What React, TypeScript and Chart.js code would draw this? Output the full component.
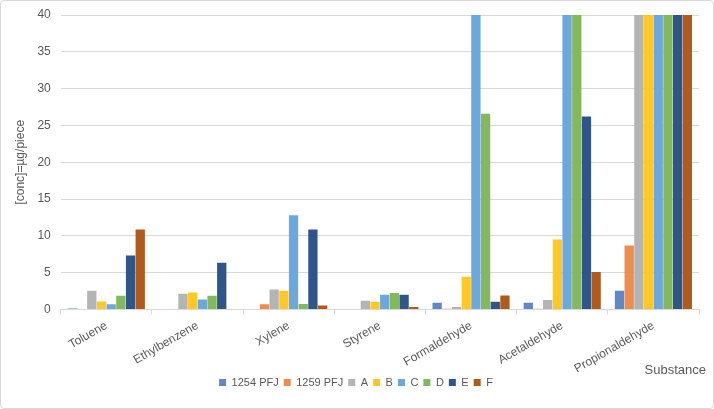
import { useEffect, useRef } from "react"
import Chart from "chart.js/auto"

const substances = [
  "Toluene",
  "Ethylbenzene",
  "Xylene",
  "Styrene",
  "Formaldehyde",
  "Acetaldehyde",
  "Propionaldehyde",
]

const seriesNames = ["1254 PFJ", "1259 PFJ", "A", "B", "C", "D", "E", "F"]

const seriesColors = [
  "#5E88C8",
  "#EE8D4E",
  "#B4B4B4",
  "#FFC825",
  "#6CA8DC",
  "#84B85C",
  "#2F568A",
  "#B05A1C",
]

// one array per series, values per substance (off-scale bars are > 40)
const pfj1254 = [0.15, 0, 0, 0, 0.9, 0.9, 2.55]
const pfj1259 = [0, 0, 0.7, 0, 0.1, 0.1, 8.7]
const seriesA = [2.55, 2.15, 2.7, 1.2, 0.35, 1.3, 60]
const seriesB = [1.1, 2.3, 2.55, 1.05, 4.45, 9.5, 60]
const seriesC = [0.7, 1.35, 12.8, 2.0, 60, 60, 60]
const seriesD = [1.85, 1.85, 0.75, 2.25, 26.6, 60, 60]
const seriesE = [7.35, 6.35, 10.85, 2.0, 1.05, 26.2, 60]
const seriesF = [10.85, 0, 0.55, 0.35, 1.9, 5.1, 60]

const seriesValues = [pfj1254, pfj1259, seriesA, seriesB, seriesC, seriesD, seriesE, seriesF]

const yTicks = [0, 5, 10, 15, 20, 25, 30, 35, 40]

const font = "'Liberation Sans', Arial, sans-serif"
const textColor = "#595959"
const lineColor = "#D9D9D9"

// x-axis title sits beside the rotated labels, at the right end
const substanceTitle = {
  id: "substanceTitle",
  afterDraw(chart: Chart) {
    const { ctx, width } = chart
    ctx.save()
    ctx.font = `13px ${font}`
    ctx.fillStyle = textColor
    ctx.textAlign = "right"
    ctx.textBaseline = "middle"
    ctx.fillText("Substance", width - 7, 369)
    ctx.restore()
  },
}

export default function App() {
  const chartRef = useRef<HTMLCanvasElement>(null)
  const chartInstance = useRef<Chart | null>(null)

  useEffect(() => {
    document.body.style.margin = "0"
    if (!chartRef.current) return

    if (chartInstance.current) {
      chartInstance.current.destroy()
    }

    const ctx = chartRef.current.getContext("2d")
    if (!ctx) return

    chartInstance.current = new Chart(ctx, {
      type: "bar",
      data: {
        labels: substances,
        datasets: seriesNames.map((name, i) => ({
          label: name,
          data: seriesValues[i],
          backgroundColor: seriesColors[i],
          borderWidth: 0,
          categoryPercentage: 0.85,
          barPercentage: 0.96,
        })),
      },
      plugins: [substanceTitle],
      options: {
        animation: false,
        responsive: true,
        maintainAspectRatio: false,
        layout: {
          padding: { top: 14, right: 14, bottom: 10, left: 12 },
        },
        plugins: {
          legend: {
            position: "bottom",
            labels: {
              boxWidth: 7,
              boxHeight: 7,
              padding: 5,
              color: textColor,
              font: { family: font, size: 11 },
            },
          },
          tooltip: { enabled: false },
        },
        scales: {
          x: {
            afterFit: (axis) => {
              axis.height -= 8
            },
            grid: {
              display: true,
              drawOnChartArea: false,
              drawTicks: true,
              tickLength: 5,
              color: lineColor,
              offset: true,
            },
            border: { display: true, color: lineColor },
            ticks: {
              minRotation: 30,
              maxRotation: 30,
              color: textColor,
              font: { family: font, size: 12 },
              padding: 4,
            },
          },
          y: {
            min: 0,
            max: 40,
            afterBuildTicks: (axis) => {
              axis.ticks = yTicks.map((v) => ({ value: v }))
            },
            afterFit: (axis) => {
              // tick padding is meant for the horizontal gap only
              axis.paddingTop = 0
              axis.paddingBottom = 0
            },
            grid: {
              color: lineColor,
              drawTicks: false,
            },
            border: { display: false },
            ticks: {
              color: textColor,
              font: { family: font, size: 12 },
              padding: 10,
            },
            title: {
              display: true,
              text: "[conc]=µg/piece",
              color: textColor,
              font: { family: font, size: 12 },
              padding: 0,
            },
          },
        },
      },
    })

    return () => {
      if (chartInstance.current) {
        chartInstance.current.destroy()
        chartInstance.current = null
      }
    }
  }, [])

  return (
    <div
      style={{
        width: 714,
        height: 409,
        boxSizing: "border-box",
        border: "1px solid #D9D9D9",
        borderRadius: 4,
        background: "#fff",
      }}
    >
      <canvas ref={chartRef} />
    </div>
  )
}
